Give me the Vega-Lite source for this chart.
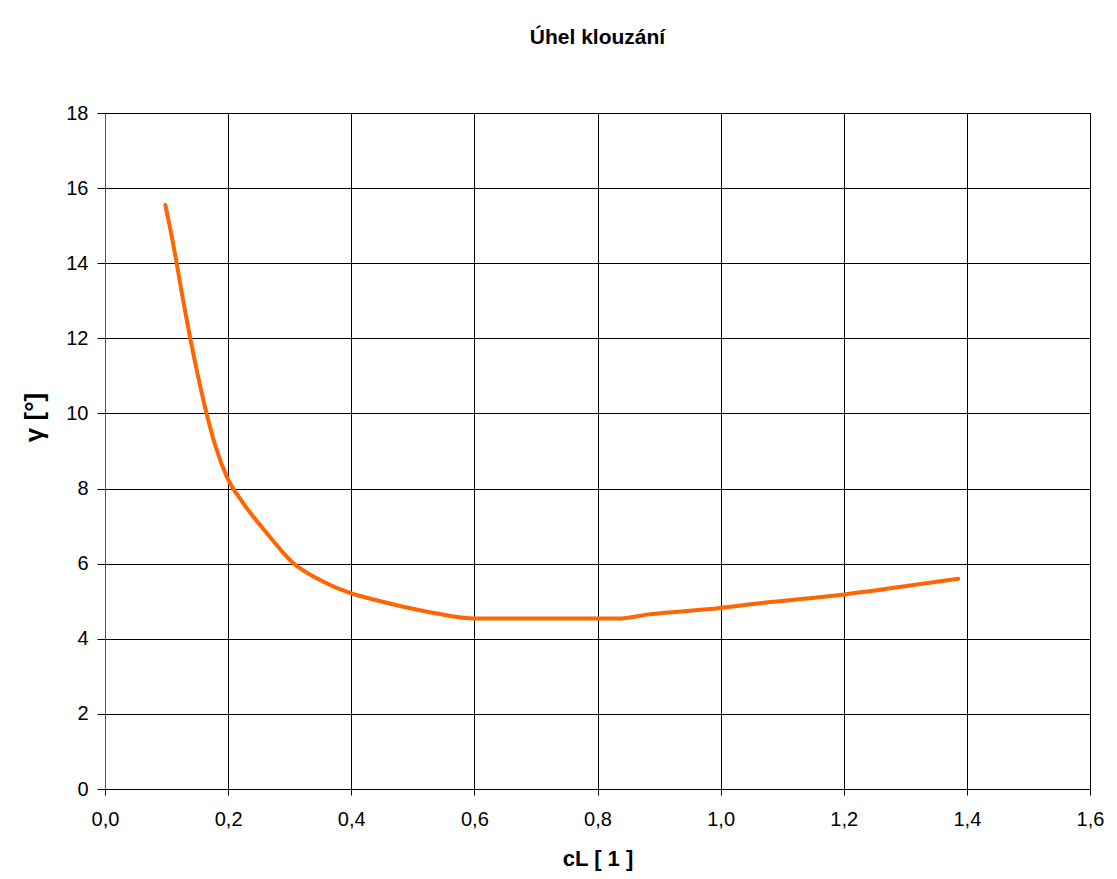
{
  "$schema": "https://vega.github.io/schema/vega-lite/v6.json",
  "autosize": "none",
  "width": 985,
  "height": 676,
  "padding": {"left": 105, "top": 113, "right": 27, "bottom": 90},
  "background": "white",
  "title": {"text": "Úhel klouzání", "font": "Liberation Sans Narrow, Liberation Sans", "fontSize": 21, "fontWeight": "bold", "color": "#000", "anchor": "middle", "offset": 55},
  "config": {"view": {"stroke": "#000", "strokeWidth": 1}},
  "data": {"values": [
    {"cL": 0.098, "gamma": 15.55},
    {"cL": 0.105, "gamma": 15.0},
    {"cL": 0.116, "gamma": 14.04},
    {"cL": 0.127, "gamma": 13.0},
    {"cL": 0.138, "gamma": 12.04},
    {"cL": 0.151, "gamma": 11.0},
    {"cL": 0.165, "gamma": 10.0},
    {"cL": 0.18, "gamma": 9.1},
    {"cL": 0.198, "gamma": 8.31},
    {"cL": 0.225, "gamma": 7.6},
    {"cL": 0.263, "gamma": 6.81},
    {"cL": 0.306, "gamma": 6.01},
    {"cL": 0.344, "gamma": 5.61},
    {"cL": 0.398, "gamma": 5.22},
    {"cL": 0.443, "gamma": 5.02},
    {"cL": 0.483, "gamma": 4.86},
    {"cL": 0.537, "gamma": 4.68},
    {"cL": 0.6, "gamma": 4.54},
    {"cL": 0.833, "gamma": 4.54},
    {"cL": 0.883, "gamma": 4.65},
    {"cL": 1.0, "gamma": 4.82},
    {"cL": 1.07, "gamma": 4.96},
    {"cL": 1.2, "gamma": 5.18},
    {"cL": 1.27, "gamma": 5.33},
    {"cL": 1.386, "gamma": 5.6}
  ]},
  "mark": {"type": "line", "color": "#FF6600", "strokeWidth": 4, "strokeCap": "round", "strokeJoin": "round", "interpolate": "monotone"},
  "encoding": {
    "x": {"field": "cL", "type": "quantitative",
      "scale": {"domain": [0, 1.6], "nice": false, "zero": false},
      "axis": {"values": [0, 0.2, 0.4, 0.6, 0.8, 1.0, 1.2, 1.4, 1.6],
        "labelExpr": "replace(format(datum.value, '.1f'), '.', ',')",
        "title": "cL [ 1 ]", "titleFont": "Liberation Sans", "titleFontSize": 22, "titleFontWeight": "bold", "titleColor": "#000", "titlePadding": 19,
        "labelFont": "Liberation Sans Narrow, Liberation Sans", "labelFontSize": 20, "labelColor": "#000", "labelPadding": 14, "labelFlush": false, "labelOverlap": false,
        "grid": true, "gridColor": "#000", "gridWidth": 1, "gridOpacity": 1,
        "domain": true, "domainColor": "#000", "ticks": true, "tickColor": "#000", "tickSize": 6}},
    "y": {"field": "gamma", "type": "quantitative",
      "scale": {"domain": [0, 18], "nice": false, "zero": true},
      "axis": {"values": [0, 2, 4, 6, 8, 10, 12, 14, 16, 18],
        "title": "γ [°]", "titleFont": "Liberation Sans", "titleFontSize": 26, "titleFontWeight": "bold", "titleColor": "#000", "titleX": -58, "titleY": 304, "titleAngle": -90, "titleBaseline": "bottom",
        "labelFont": "Liberation Sans Narrow, Liberation Sans", "labelFontSize": 20, "labelColor": "#000", "labelPadding": 9, "labelFlush": false, "labelOverlap": false,
        "grid": true, "gridColor": "#000", "gridWidth": 1, "gridOpacity": 1,
        "domain": true, "domainColor": "#555", "ticks": true, "tickColor": "#000", "tickSize": 8}}
  }
}
